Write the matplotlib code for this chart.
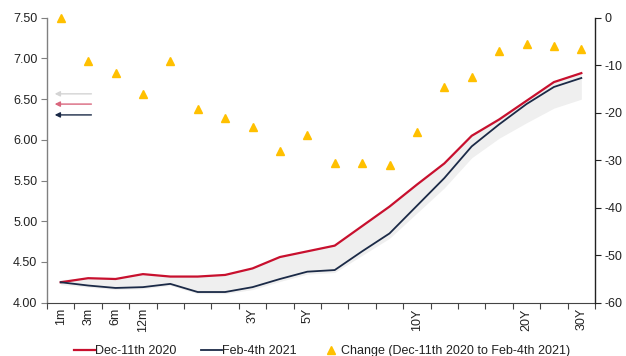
import matplotlib
matplotlib.use("Agg")
import matplotlib.pyplot as plt
from matplotlib.ticker import FixedLocator, FormatStrFormatter
import numpy as np

plt.rcParams["font.family"] = ["Liberation Sans", "DejaVu Sans"]
plt.rcParams["axes.unicode_minus"] = False

# Curve tenors (only some carry a label on the axis)
tenors = ["1m", "3m", "6m", "12m", "", "", "", "3Y", "", "5Y",
          "", "", "", "10Y", "", "", "", "20Y", "", "30Y"]

# Yield curves (%)
dec_2020 = [4.25, 4.30, 4.29, 4.35, 4.32, 4.32, 4.34, 4.42, 4.56, 4.63,
            4.70, 4.94, 5.18, 5.45, 5.71, 6.05, 6.25, 6.48, 6.71, 6.82]
feb_2021 = [4.25, 4.21, 4.18, 4.19, 4.23, 4.13, 4.13, 4.19, 4.29, 4.38,
            4.40, 4.63, 4.85, 5.19, 5.53, 5.92, 6.19, 6.44, 6.65, 6.76]

# Historical range band (%)
range_low = [4.22, 4.19, 4.16, 4.17, 4.21, 4.11, 4.11, 4.16, 4.26, 4.35,
             4.37, 4.58, 4.79, 5.10, 5.41, 5.78, 6.02, 6.21, 6.39, 6.50]
range_high = [4.28, 4.31, 4.30, 4.36, 4.33, 4.33, 4.35, 4.43, 4.57, 4.64,
              4.72, 4.96, 5.20, 5.47, 5.73, 6.07, 6.28, 6.50, 6.72, 6.84]

# Change between the two dates (bp)
change_bp = [0, -9, -11.6, -16.1, -9, -19.2, -21.1, -23.1, -28.1, -24.6,
             -30.6, -30.6, -31.0, -24.1, -14.5, -12.5, -7.0, -5.5, -6.0, -6.5]

RED = "#C8102E"
NAVY = "#1B2A47"
YELLOW = "#FFC000"
BAND = "#EFEFEF"
TXT = "#222222"

fig = plt.figure(figsize=(6.26, 3.56), dpi=100)
ax = fig.add_axes([0.0751, 0.150, 0.8754, 0.800])
ax2 = ax.twinx()

x = np.arange(len(tenors))

ax.fill_between(x, range_low, range_high, color=BAND, lw=0, zorder=1)
l1, = ax.plot(x, dec_2020, color=RED, lw=1.6, zorder=3, label="Dec-11th 2020")
l2, = ax.plot(x, feb_2021, color=NAVY, lw=1.3, zorder=3, label="Feb-4th 2021")
m1, = ax2.plot(x, change_bp, ls="none", marker="^", ms=6.2, color=YELLOW,
               mec=YELLOW, clip_on=False,
               label="Change (Dec-11th 2020 to Feb-4th 2021)")

ax.set_xlim(-0.5, len(tenors) - 0.5)
ax.set_ylim(4.0, 7.5)
ax2.set_ylim(-60, 0)

ax.set_yticks(np.arange(4.0, 7.51, 0.5))
ax.yaxis.set_major_formatter(FormatStrFormatter("%.2f"))
ax2.set_yticks(np.arange(-60, 1, 10))

ax.set_xticks(x)
ax.set_xticklabels(tenors, rotation=90, fontsize=9, color=TXT)
ax.xaxis.set_minor_locator(FixedLocator(np.arange(-0.5, len(tenors), 1.0)))
ax.tick_params(axis="x", which="major", length=0, pad=4)
ax.tick_params(axis="x", which="minor", length=4, width=0.8, color="#444444")
ax.tick_params(axis="y", labelsize=9, length=4, width=0.8, color="#808080",
               labelcolor=TXT, pad=3)
ax2.tick_params(axis="y", labelsize=9, length=4, width=0.8, color="#222222",
                labelcolor=TXT, pad=3)

for a in (ax, ax2):
    a.spines["top"].set_visible(False)
ax.spines["right"].set_visible(False)
ax2.spines["left"].set_visible(False)
ax2.spines["bottom"].set_visible(False)
ax.spines["left"].set_color("#808080")
ax.spines["left"].set_linewidth(1.0)
ax.spines["bottom"].set_color("#444444")
ax.spines["bottom"].set_linewidth(0.8)
ax2.spines["right"].set_color("#222222")
ax2.spines["right"].set_linewidth(1.0)

# Small arrows pointing to the left-hand axis
for yf, col in [(0.733, "#D4D4D4"), (0.697, "#D9667D"), (0.659, NAVY)]:
    ax.annotate("", xy=(0.014, yf), xytext=(0.081, yf),
                xycoords="axes fraction", textcoords="axes fraction",
                arrowprops=dict(arrowstyle="-|>,head_length=0.3,head_width=0.15",
                                color=col, lw=1.0, shrinkA=0, shrinkB=0))

fig.legend(handles=[l1, l2, m1], loc="lower center", ncol=3, frameon=False,
           fontsize=9, bbox_to_anchor=(0.515, -0.035), handlelength=1.7,
           handletextpad=0.0, columnspacing=1.9, labelcolor=TXT)

fig.savefig("out.png", dpi=100)
